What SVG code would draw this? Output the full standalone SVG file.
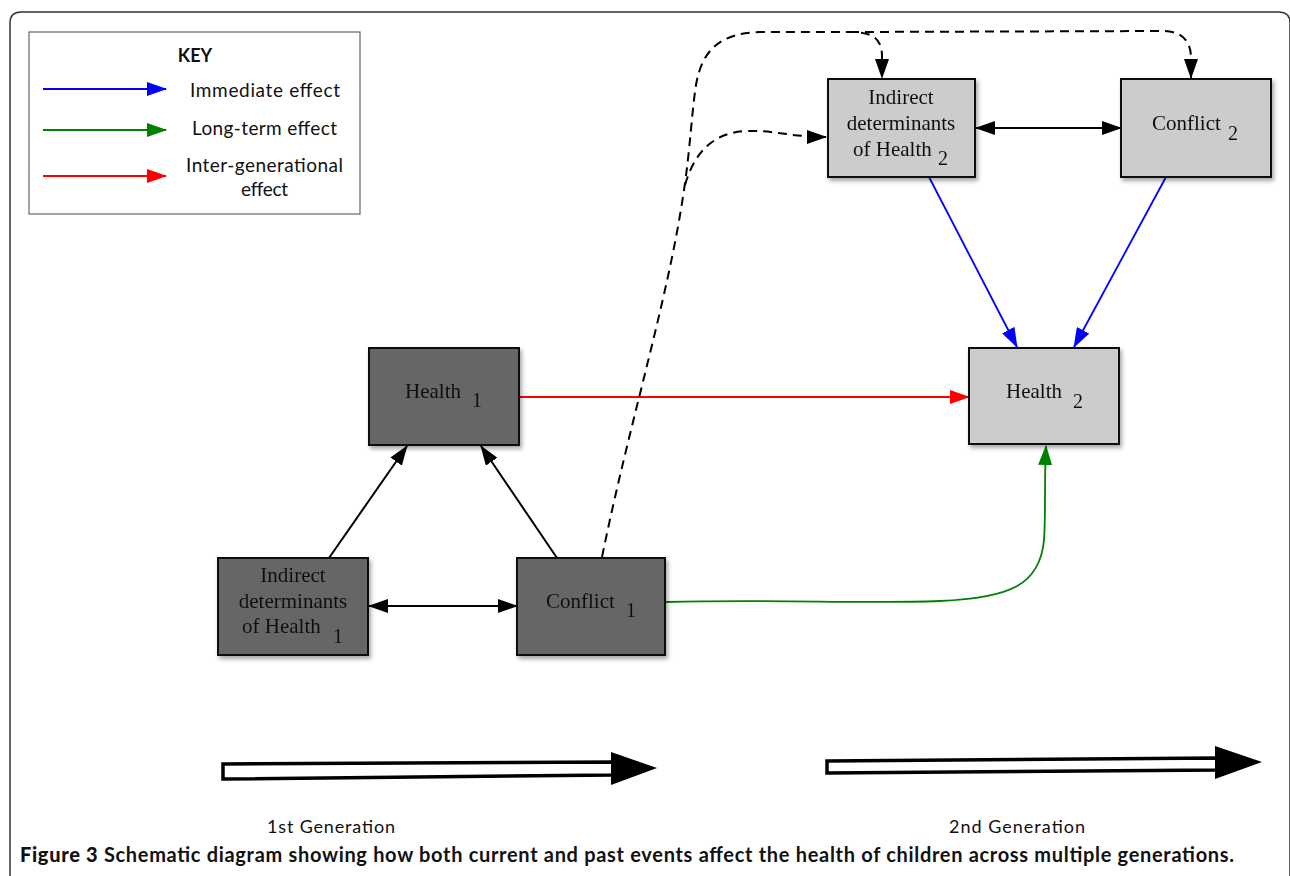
<svg xmlns="http://www.w3.org/2000/svg" width="1290" height="876" viewBox="0 0 1290 876">
<style>
.frame{fill:none;stroke:#333;stroke-width:1.5}
.key{fill:#fff;stroke:#666;stroke-width:1.2}
.sans{font-family:Lato,"Liberation Sans",sans-serif;fill:#111}
.serif{font-family:"Liberation Serif","Times New Roman",serif;font-size:21px;fill:#111}
.sub{font-family:"Liberation Serif","Times New Roman",serif;font-size:20px;fill:#111}
.dark{fill:#666;stroke:#111;stroke-width:2}
.light{fill:#ccc;stroke:#111;stroke-width:2}
.blk{fill:none;stroke:#000;stroke-width:2}
.dash{fill:none;stroke:#000;stroke-width:2;stroke-dasharray:9,6}
.red{fill:none;stroke:#f00;stroke-width:1.8}
.blue{fill:none;stroke:#00f;stroke-width:1.8}
.green{fill:none;stroke:#008000;stroke-width:1.8}
.shaft{fill:#fff;stroke:#000;stroke-width:3.5;stroke-linejoin:miter}
</style>
<defs>
<filter id="sh" x="-10%" y="-10%" width="130%" height="130%">
<feDropShadow dx="2" dy="3" stdDeviation="2" flood-color="#000" flood-opacity="0.35"/>
</filter>
<marker id="ab" markerUnits="userSpaceOnUse" markerWidth="20" markerHeight="14" refX="19" refY="7" orient="auto-start-reverse"><path d="M0,0 L20,7 L0,14 z" fill="#000"/></marker>
<marker id="ar" markerUnits="userSpaceOnUse" markerWidth="20" markerHeight="14" refX="19" refY="7" orient="auto"><path d="M0,0 L20,7 L0,14 z" fill="#f00"/></marker>
<marker id="au" markerUnits="userSpaceOnUse" markerWidth="20" markerHeight="14" refX="19" refY="7" orient="auto"><path d="M0,0 L20,7 L0,14 z" fill="#00f"/></marker>
<marker id="ag" markerUnits="userSpaceOnUse" markerWidth="20" markerHeight="14" refX="19" refY="7" orient="auto"><path d="M0,0 L20,7 L0,14 z" fill="#008000"/></marker>
</defs>
<rect width="1290" height="876" fill="#fff"/>
<path class="frame" d="M10,876 L10,23 Q10,12 21,12 L1279,12 Q1290,12 1290,23 L1290,876"/>

<g id="legend">
<rect class="key" x="29" y="32" width="331" height="182"/>
<text class="sans" x="195" y="62" font-size="18" font-weight="700" text-anchor="middle">KEY</text>
<line class="blue" x1="43" y1="89" x2="166" y2="89" marker-end="url(#au)"/>
<text class="sans" x="190" y="97" font-size="19" textLength="150">Immediate effect</text>
<line class="green" x1="43" y1="130" x2="166" y2="130" marker-end="url(#ag)"/>
<text class="sans" x="192" y="135" font-size="19" textLength="145">Long-term effect</text>
<line class="red" x1="43" y1="176" x2="166" y2="176" marker-end="url(#ar)"/>
<text class="sans" x="186" y="172" font-size="19" textLength="157">Inter-generational</text>
<text class="sans" x="241" y="196" font-size="19" textLength="47">effect</text>
</g>

<g id="connectors">
<line class="red" x1="519" y1="397" x2="969" y2="397" marker-end="url(#ar)"/>
<line class="blue" x1="929" y1="177" x2="1017" y2="347" marker-end="url(#au)"/>
<line class="blue" x1="1166" y1="177" x2="1074" y2="347" marker-end="url(#au)"/>
<path class="green" d="M666,602 C780,599 860,604 940,601 C1010,598 1040,585 1044,540 C1046,510 1044,490 1046,446" marker-end="url(#ag)"/>
<line class="blk" x1="329" y1="558" x2="407" y2="446" marker-end="url(#ab)"/>
<line class="blk" x1="557" y1="558" x2="481" y2="446" marker-end="url(#ab)"/>
<line class="blk" x1="369" y1="606" x2="517" y2="606" marker-start="url(#ab)" marker-end="url(#ab)"/>
<line class="blk" x1="976" y1="128" x2="1121" y2="128" marker-start="url(#ab)" marker-end="url(#ab)"/>
<path class="dash" d="M602,557 C630,420 668,300 684,190 C690,150 692,110 696,85 C702,50 720,33 760,32 L850,32 C872,32 882,38 882,56 L882,78" marker-end="url(#ab)"/>
<path class="dash" d="M850,32 L1165,31 C1183,32 1191,42 1191,58 L1191,78" marker-end="url(#ab)"/>
<path class="dash" d="M685,185 C695,150 715,133 745,131 C775,130 790,137 826,137" marker-end="url(#ab)"/>
</g>

<g id="health1" filter="url(#sh)">
<rect class="dark" x="369" y="348" width="150" height="97"/>
<text class="serif" x="405" y="398">Health</text>
<text class="sub" x="472" y="407">1</text>
</g>
<g id="indirect1" filter="url(#sh)">
<rect class="dark" x="218" y="558" width="150" height="97"/>
<text class="serif" x="293" y="582" text-anchor="middle">Indirect</text>
<text class="serif" x="293" y="608" text-anchor="middle">determinants</text>
<text class="serif" x="242" y="633">of Health</text>
<text class="sub" x="333" y="643">1</text>
</g>
<g id="conflict1" filter="url(#sh)">
<rect class="dark" x="517" y="558" width="148" height="97"/>
<text class="serif" x="546" y="608">Conflict</text>
<text class="sub" x="626" y="617">1</text>
</g>
<g id="indirect2" filter="url(#sh)">
<rect class="light" x="828" y="79" width="147" height="98"/>
<text class="serif" x="901" y="104" text-anchor="middle">Indirect</text>
<text class="serif" x="901" y="130" text-anchor="middle">determinants</text>
<text class="serif" x="853" y="156">of Health</text>
<text class="sub" x="938" y="165">2</text>
</g>
<g id="conflict2" filter="url(#sh)">
<rect class="light" x="1121" y="79" width="150" height="98"/>
<text class="serif" x="1152" y="130">Conflict</text>
<text class="sub" x="1228" y="140">2</text>
</g>
<g id="health2" filter="url(#sh)">
<rect class="light" x="969" y="348" width="150" height="96"/>
<text class="serif" x="1006" y="398">Health</text>
<text class="sub" x="1073" y="408">2</text>
</g>

<g id="gen1">
<path class="shaft" d="M223,764 L613,762 L613,775 L223,779 Z"/>
<path d="M611,752 L657,768 L611,785 Z" fill="#000"/>
<text class="sans" x="267" y="833" font-size="18" textLength="128">1st Generation</text>
</g>
<g id="gen2">
<path class="shaft" d="M827,761 L1217,758 L1217,770 L827,773 Z"/>
<path d="M1215,746 L1262,762 L1215,779 Z" fill="#000"/>
<text class="sans" x="949" y="833" font-size="18" textLength="136">2nd Generation</text>
</g>

<text class="sans" x="20" y="862" font-size="20" font-weight="700" fill="#222" textLength="1214"><tspan font-weight="900" fill="#111">Figure 3</tspan> Schematic diagram showing how both current and past events affect the health of children across multiple generations.</text>
</svg>
